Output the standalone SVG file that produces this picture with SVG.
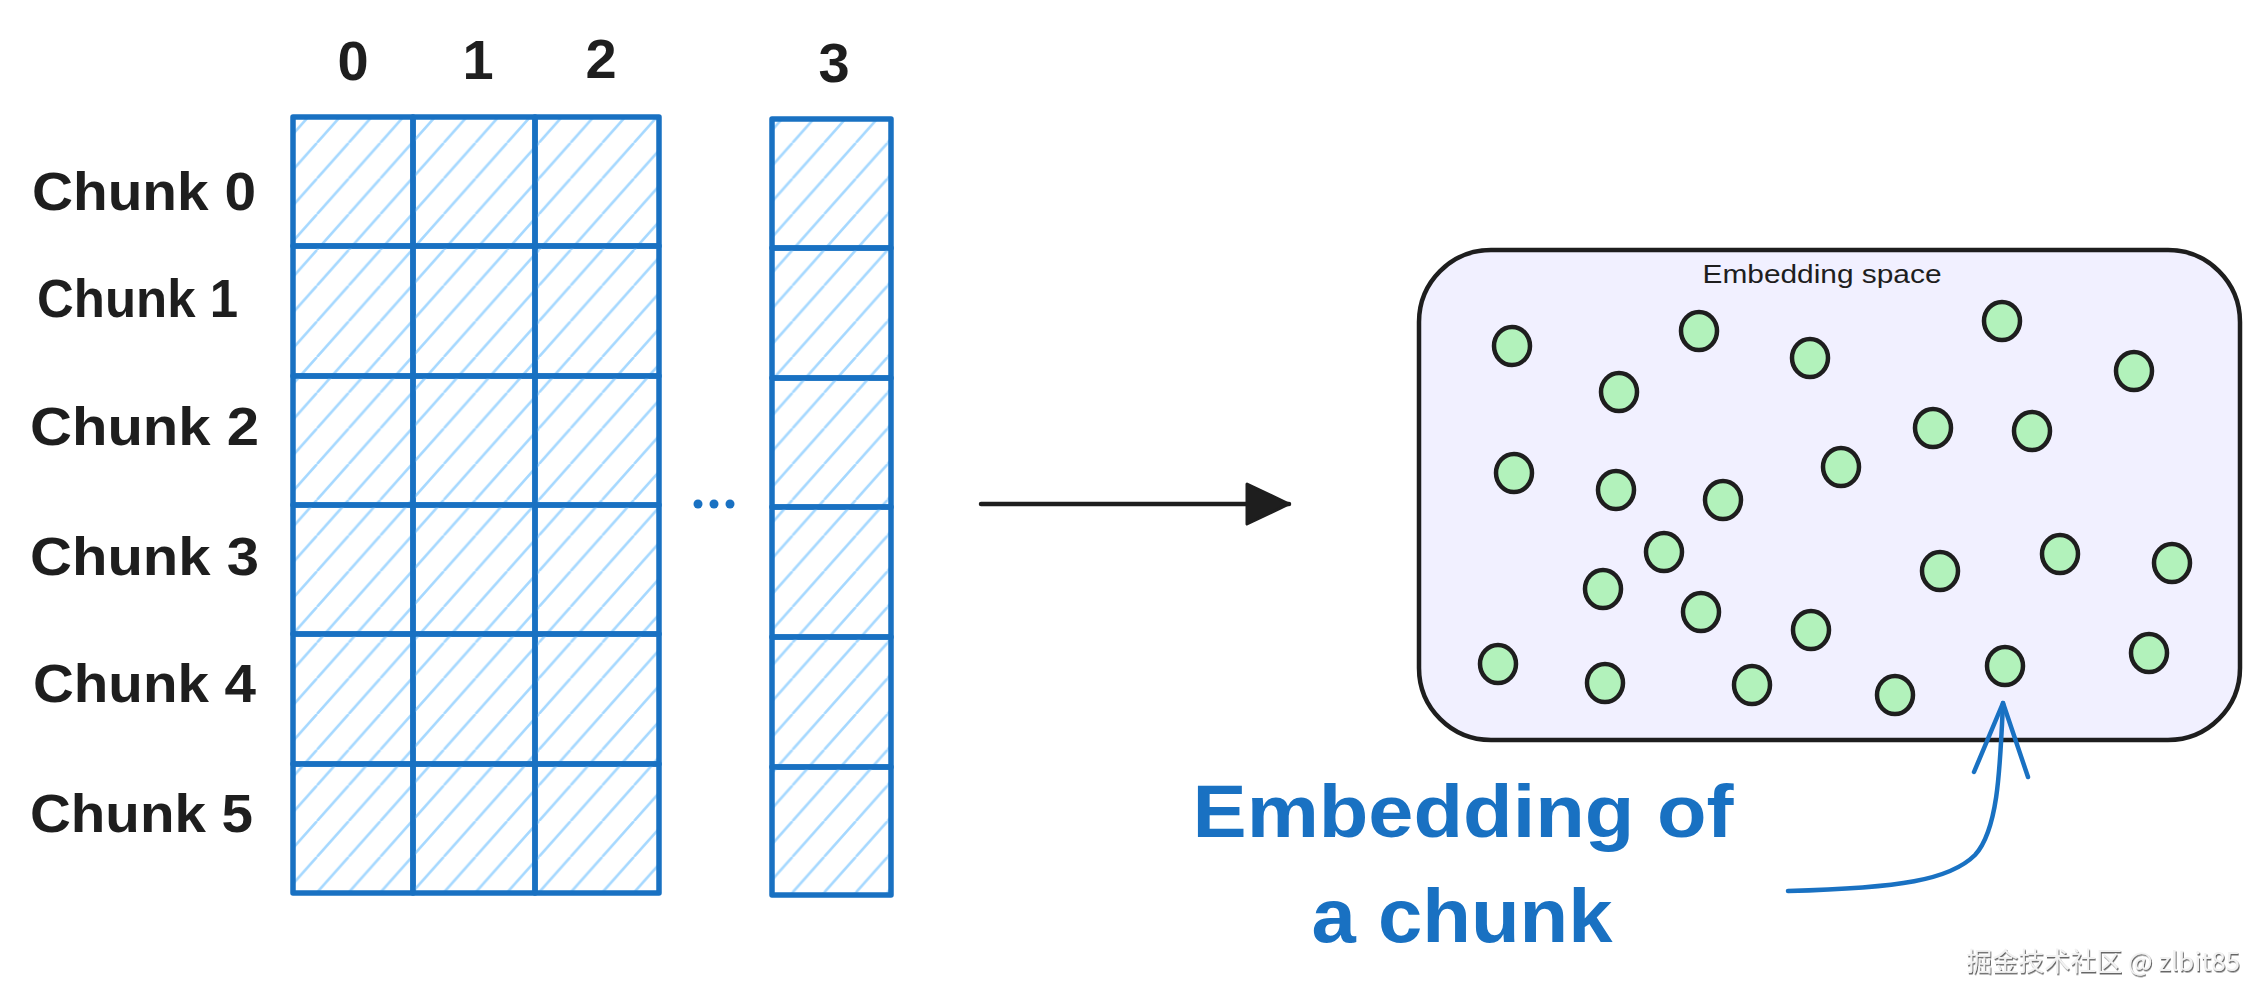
<svg xmlns="http://www.w3.org/2000/svg" width="2268" height="1002" viewBox="0 0 2268 1002">
  <style>
    .cell { fill: url(#hatch); stroke: #1971c2; stroke-width: 5.5; stroke-linejoin: round; }
    .lbl { font-family: "Liberation Sans", "DejaVu Sans", sans-serif; fill: #1e1e1e; }
    .blue { font-family: "Liberation Sans", "DejaVu Sans", sans-serif; fill: #1971c2; }
    .dot { fill: #b2f2bb; stroke: #1e1e1e; stroke-width: 4.5; }
    .ell { fill: #1971c2; }
  </style>
  <defs>
    <pattern id="hatch" patternUnits="userSpaceOnUse" width="31.7" height="35.7">
      <path d="M-31.7,35.7 L0,0 M0,35.7 L31.7,0 M31.7,35.7 L63.4,0" stroke="#a5d8ff" stroke-width="2.6" fill="none"/>
    </pattern>
    <marker id="tri" markerUnits="userSpaceOnUse" viewBox="0 0 46 44" refX="44" refY="22" markerWidth="46" markerHeight="44" orient="auto">
      <path d="M2,2 L44,22 L2,42 Z" fill="#1e1e1e" stroke="#1e1e1e" stroke-width="3" stroke-linejoin="round"/>
    </marker>
    <filter id="shadow" x="-5%" y="-20%" width="110%" height="150%">
      <feDropShadow dx="1" dy="1.5" stdDeviation="0.6" flood-color="#555555" flood-opacity="0.9"/>
    </filter>
  </defs>
  <rect width="2268" height="1002" fill="#ffffff"/>

  <!-- column headers -->
  <g id="column-headers" class="lbl" font-size="56" font-weight="bold" text-anchor="middle">
    <text x="353" y="80">0</text>
    <text x="478" y="79">1</text>
    <text x="601" y="78">2</text>
    <text x="834" y="82">3</text>
  </g>

  <!-- chunk labels -->
  <g id="chunk-labels" class="lbl" font-size="54" font-weight="bold">
    <text x="32" y="210" textLength="224" lengthAdjust="spacingAndGlyphs">Chunk 0</text>
    <text x="37" y="317" textLength="201" lengthAdjust="spacingAndGlyphs">Chunk 1</text>
    <text x="30" y="445" textLength="229" lengthAdjust="spacingAndGlyphs">Chunk 2</text>
    <text x="30" y="575" textLength="229" lengthAdjust="spacingAndGlyphs">Chunk 3</text>
    <text x="33" y="702" textLength="223" lengthAdjust="spacingAndGlyphs">Chunk 4</text>
    <text x="30" y="832" textLength="223" lengthAdjust="spacingAndGlyphs">Chunk 5</text>
  </g>

  <!-- matrix rows -->
  <g id="row-0">
    <rect class="cell" x="293" y="117" width="120" height="129"/>
    <rect class="cell" x="413" y="117" width="122" height="129"/>
    <rect class="cell" x="535" y="117" width="124" height="129"/>
    <rect class="cell" x="772" y="119" width="119" height="129"/>
  </g>
  <g id="row-1">
    <rect class="cell" x="293" y="246" width="120" height="130"/>
    <rect class="cell" x="413" y="246" width="122" height="130"/>
    <rect class="cell" x="535" y="246" width="124" height="130"/>
    <rect class="cell" x="772" y="248" width="119" height="130"/>
  </g>
  <g id="row-2">
    <rect class="cell" x="293" y="376" width="120" height="129"/>
    <rect class="cell" x="413" y="376" width="122" height="129"/>
    <rect class="cell" x="535" y="376" width="124" height="129"/>
    <rect class="cell" x="772" y="378" width="119" height="129"/>
  </g>
  <g id="row-3">
    <rect class="cell" x="293" y="505" width="120" height="129"/>
    <rect class="cell" x="413" y="505" width="122" height="129"/>
    <rect class="cell" x="535" y="505" width="124" height="129"/>
    <rect class="cell" x="772" y="507" width="119" height="130"/>
  </g>
  <g id="row-4">
    <rect class="cell" x="293" y="634" width="120" height="130"/>
    <rect class="cell" x="413" y="634" width="122" height="130"/>
    <rect class="cell" x="535" y="634" width="124" height="130"/>
    <rect class="cell" x="772" y="637" width="119" height="130"/>
  </g>
  <g id="row-5">
    <rect class="cell" x="293" y="764" width="120" height="129"/>
    <rect class="cell" x="413" y="764" width="122" height="129"/>
    <rect class="cell" x="535" y="764" width="124" height="129"/>
    <rect class="cell" x="772" y="767" width="119" height="128"/>
  </g>

  <g id="ellipsis">
    <circle class="ell" cx="698" cy="504" r="4.5"/>
    <circle class="ell" cx="714" cy="504" r="4.5"/>
    <circle class="ell" cx="730" cy="504" r="4.5"/>
  </g>

  <!-- embedding space -->
  <g id="embedding-space">
    <rect x="1419" y="250" width="821" height="490" rx="72" ry="72" fill="#f1f0ff" stroke="#1e1e1e" stroke-width="4.5"/>
    <text class="lbl" x="1822" y="283" font-size="25" text-anchor="middle" textLength="239" lengthAdjust="spacingAndGlyphs">Embedding space</text>
  </g>
  <g id="embeddings">
    <ellipse class="dot" cx="1512" cy="346" rx="18" ry="19"/>
    <ellipse class="dot" cx="1699" cy="331" rx="18" ry="19"/>
    <ellipse class="dot" cx="1810" cy="358" rx="18" ry="19"/>
    <ellipse class="dot" cx="2002" cy="321" rx="18" ry="19"/>
    <ellipse class="dot" cx="2134" cy="371" rx="18" ry="19"/>
    <ellipse class="dot" cx="1619" cy="392" rx="18" ry="19"/>
    <ellipse class="dot" cx="1933" cy="428" rx="18" ry="19"/>
    <ellipse class="dot" cx="2032" cy="431" rx="18" ry="19"/>
    <ellipse class="dot" cx="1514" cy="473" rx="18" ry="19"/>
    <ellipse class="dot" cx="1841" cy="467" rx="18" ry="19"/>
    <ellipse class="dot" cx="1616" cy="490" rx="18" ry="19"/>
    <ellipse class="dot" cx="1723" cy="500" rx="18" ry="19"/>
    <ellipse class="dot" cx="1664" cy="552" rx="18" ry="19"/>
    <ellipse class="dot" cx="2060" cy="554" rx="18" ry="19"/>
    <ellipse class="dot" cx="2172" cy="563" rx="18" ry="19"/>
    <ellipse class="dot" cx="1940" cy="571" rx="18" ry="19"/>
    <ellipse class="dot" cx="1603" cy="589" rx="18" ry="19"/>
    <ellipse class="dot" cx="1701" cy="612" rx="18" ry="19"/>
    <ellipse class="dot" cx="1811" cy="630" rx="18" ry="19"/>
    <ellipse class="dot" cx="1498" cy="664" rx="18" ry="19"/>
    <ellipse class="dot" cx="1605" cy="683" rx="18" ry="19"/>
    <ellipse class="dot" cx="1752" cy="685" rx="18" ry="19"/>
    <ellipse class="dot" cx="1895" cy="695" rx="18" ry="19"/>
    <ellipse class="dot" cx="2005" cy="666" rx="18" ry="19"/>
    <ellipse class="dot" cx="2149" cy="653" rx="18" ry="19"/>
  </g>

  <g id="annotation" class="blue" text-anchor="middle" font-weight="bold">
    <text x="1463" y="837" font-size="74" textLength="541" lengthAdjust="spacingAndGlyphs">Embedding of</text>
    <text x="1462" y="942" font-size="76" textLength="301" lengthAdjust="spacingAndGlyphs">a chunk</text>
  </g>

  <!-- connectors -->
  <g id="connectors" fill="none" stroke-linecap="round" stroke-linejoin="round">
    <path d="M981,504 L1289,504" stroke="#1e1e1e" stroke-width="4.5" marker-end="url(#tri)"/>
    <path d="M1788,891 C1900,888 1950,880 1975,855 C1998,830 2000,770 2003,703" stroke="#1971c2" stroke-width="4.5"/>
    <path d="M1974,772 L2003,703 L2028,777" stroke="#1971c2" stroke-width="4.5"/>
  </g>

  <text x="2240" y="971" font-family="'Noto Sans CJK SC', 'Liberation Sans', sans-serif" font-size="26" fill="#f2f2f2" text-anchor="end" filter="url(#shadow)">掘金技术社区 @ zlbit85</text>
</svg>
